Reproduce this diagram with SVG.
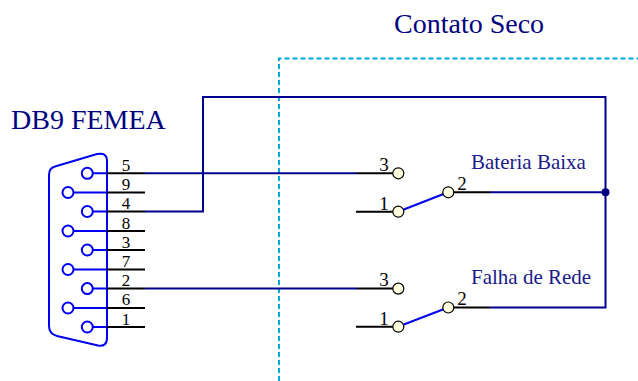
<svg xmlns="http://www.w3.org/2000/svg" width="638" height="381" viewBox="0 0 638 381">
<style>
text{font-family:"Liberation Serif","Times New Roman",serif}
.t{fill:#000080;font-size:28px}
.s{fill:#1a1a8c;font-size:21px}
.n{fill:#000;font-size:19px;text-anchor:middle}
.m{fill:#000;font-size:17px;text-anchor:middle}
.k{stroke:#000;stroke-width:2;fill:none}
.w{stroke:#000090;stroke-width:2;fill:none}
.b{stroke:#0000ee;stroke-width:2;fill:none}
.p{stroke:#0000ee;stroke-width:2;fill:#fff}
.c{stroke:#000;stroke-width:1.2;fill:#ffffe0}
</style>
<rect width="638" height="381" fill="#fff"/>
<g id="boundary"><path d="M279 381V58.500H638" fill="none" stroke="#00a8dc" stroke-width="2" stroke-dasharray="5 3"/></g>
<text class="t" x="394" y="33">Contato Seco</text>
<text class="t" x="11" y="129">DB9 FEMEA</text>
<g id="connectors">
<path class="w" d="M145 173.300H357M145 211.500H203V97H605.500V307.500H490M490 192.300H605.500M145 288.600H357"/>
</g>
<g id="db9">
<path class="b" d="M49 175Q49 168 55 166.500L97 154Q107 152 107 161V338Q107 347 98 345.500L57 336Q49 334 49 326Z"/>
<g class="b">
<path d="M93 173.300H107M74 192.500H107M93 211.500H107M74 231H107M93 250H107M74 269.500H107M93 288.600H107M74 308H107M93 327H107"/>
</g>
<path class="k" d="M107 173.300H145M107 192.500H145M107 211.500H145M107 231H145M107 250H145M107 269.500H145M107 288.600H145M107 308H145M107 327H145"/>
<circle class="p" cx="87.300" cy="173.300" r="5.500"/>
<circle class="p" cx="68" cy="192.500" r="5.500"/>
<circle class="p" cx="87.300" cy="211.500" r="5.500"/>
<circle class="p" cx="68" cy="231" r="5.500"/>
<circle class="p" cx="87.300" cy="250" r="5.500"/>
<circle class="p" cx="68" cy="269.500" r="5.500"/>
<circle class="p" cx="87.300" cy="288.600" r="5.500"/>
<circle class="p" cx="68" cy="308" r="5.500"/>
<circle class="p" cx="87.300" cy="327" r="5.500"/>
<text class="m" x="126" y="171">5</text>
<text class="m" x="126" y="190">9</text>
<text class="m" x="126" y="209">4</text>
<text class="m" x="126" y="229">8</text>
<text class="m" x="126" y="248">3</text>
<text class="m" x="126" y="267">7</text>
<text class="m" x="126" y="286">2</text>
<text class="m" x="126" y="305">6</text>
<text class="m" x="126" y="325">1</text>
</g>
<g id="bateria-baixa">
<text class="s" x="471" y="169">Bateria Baixa</text>
<path class="k" d="M357 173.300H398M356 211.700H398M448 192.300H490"/>
<path class="b" d="M398 211.700L448 192.300"/>
<circle class="c" cx="398.300" cy="173.300" r="5.500"/>
<circle class="c" cx="398.300" cy="211.700" r="5.500"/>
<circle class="c" cx="448.300" cy="192.300" r="5.500"/>
<text class="n" x="384" y="171">3</text>
<text class="n" x="384" y="210">1</text>
<text class="n" x="462" y="190">2</text>
</g>
<g id="falha-de-rede">
<text class="s" x="471" y="284">Falha de Rede</text>
<path class="k" d="M357 288.600H398M356 326.700H398M448 307.500H490"/>
<path class="b" d="M398 326.700L448 307.500"/>
<circle class="c" cx="398.300" cy="288.600" r="5.500"/>
<circle class="c" cx="398.300" cy="326.700" r="5.500"/>
<circle class="c" cx="448.300" cy="307.500" r="5.500"/>
<text class="n" x="384" y="286">3</text>
<text class="n" x="384" y="325">1</text>
<text class="n" x="462" y="305">2</text>
</g>
<circle id="junction" cx="605.500" cy="192.300" r="4" fill="#000080"/>
</svg>
